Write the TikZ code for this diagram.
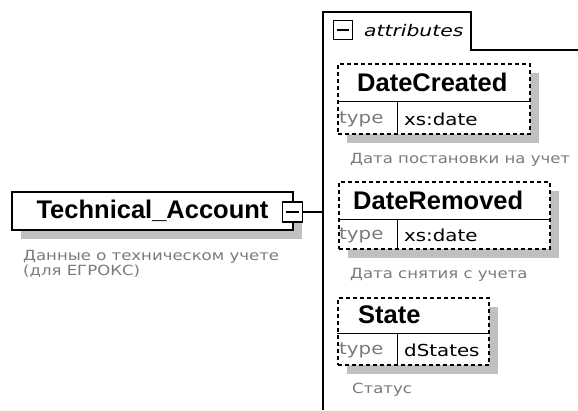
\documentclass[tikz,border=0pt]{standalone}
\usepackage{fontspec}
\setmainfont{DejaVu Sans}
\newfontfamily\descfont[FakeStretch=1.18]{DejaVu Sans}
\newfontfamily\typefont[FakeStretch=1.2]{DejaVu Sans}
\newfontfamily\tabfont[FakeStretch=1.27]{DejaVu Sans}
\newfontfamily\namefont{Liberation Sans}
\usetikzlibrary{positioning,shadows}

\definecolor{shadowgray}{RGB}{192,192,192}
\definecolor{descgray}{RGB}{122,122,122}

\tikzset{
  boxshadow/.style={drop shadow={shadow xshift=9pt, shadow yshift=-9pt, fill=shadowgray, opacity=1}},
  elembox/.style={draw, line width=1.5pt, fill=white, boxshadow, inner sep=0pt,
    font=\namefont\bfseries\fontsize{25.5}{28}\selectfont},
  attrbox/.style={draw, dash pattern=on 4pt off 3pt, line width=1.6pt, fill=white, boxshadow,
    anchor=north west, inner sep=0pt},
  namelabel/.style={font=\namefont\bfseries\fontsize{25.5}{28}\selectfont, anchor=west, inner sep=0pt},
  typelabel/.style={font=\typefont\fontsize{16.5}{18}\selectfont, text=descgray, anchor=west, inner sep=0pt},
  typevalue/.style={font=\typefont\fontsize{16.5}{18}\selectfont, anchor=west, inner sep=0pt},
  desclabel/.style={font=\descfont\fontsize{14}{15.5}\selectfont, text=descgray, anchor=west,
    inner sep=0pt, align=left},
  tablabel/.style={font=\tabfont\itshape\fontsize{16}{18}\selectfont, inner sep=0pt, anchor=west},
  minusbox/.style={draw, line width=1.1pt, fill=white, inner sep=0pt,
    path picture={\draw[line width=1.1pt] ([xshift=3.5pt]path picture bounding box.west)
      -- ([xshift=-3.5pt]path picture bounding box.east);}},
  divider/.style={line width=0.8pt},
  frameline/.style={line width=1.4pt}
}

\begin{document}
\begin{tikzpicture}[x=1pt,y=-1pt]
\useasboundingbox (0,0) rectangle (578,410);

% Element box and its description
\node[elembox, minimum width=281pt, minimum height=38pt] (acct) at (152.5,211) {Technical\_Account};
\node[minusbox, minimum size=20pt] (acctminus) at (292.5,212) {};
\node[desclabel] (acctdesc) at (23,264) {Данные о техническом учете\\(для ЕГРОКС)};

% Attributes frame with its tab
\coordinate (attrtl) at (323,12);
\coordinate (tabbr) at (471,50);
\coordinate (framebot) at (323,410);
\coordinate (frameright) at (578,50);
\draw[frameline] (framebot) -- (attrtl) -- (attrtl -| tabbr) -- (tabbr) -- (frameright);
\node[minusbox, minimum size=19pt] (attrminus) at (343,30) {};
\node[tablabel] (attrlabel) at (364,31) {attributes};

% Connector from element to attributes
\draw[frameline] (acctminus.east) -- (acctminus.east -| attrtl);

% Attribute DateCreated
\node[attrbox, minimum width=192pt, minimum height=70pt] (created) at (337,63) {};
\draw[divider] ([shift={(0,38)}]created.north west) -- ([shift={(0,38)}]created.north east);
\draw[divider] ([shift={(60,38)}]created.north west) -- ([shift={(60,0)}]created.south west);
\node[namelabel] (createdname) at ([shift={(20,19.5)}]created.north west) {DateCreated};
\node[typelabel] (createdtype) at ([shift={(2,-15)}]created.south west) {type};
\node[typevalue] (createdval) at ([shift={(67,-15)}]created.south west) {xs:date};
\node[desclabel] (createddesc) at ([shift={(13,25)}]created.south west) {Дата постановки на учет};

% Attribute DateRemoved
\node[attrbox, minimum width=211pt, minimum height=67pt] (removed) at (338,181) {};
\draw[divider] ([shift={(0,38)}]removed.north west) -- ([shift={(0,38)}]removed.north east);
\draw[divider] ([shift={(59,38)}]removed.north west) -- ([shift={(59,0)}]removed.south west);
\node[namelabel] (removedname) at ([shift={(15,19)}]removed.north west) {DateRemoved};
\node[typelabel] (removedtype) at ([shift={(1,-14)}]removed.south west) {type};
\node[typevalue] (removedval) at ([shift={(66,-14)}]removed.south west) {xs:date};
\node[desclabel] (removeddesc) at ([shift={(12,25)}]removed.south west) {Дата снятия с учета};

% Attribute State
\node[attrbox, minimum width=151pt, minimum height=67pt] (state) at (337,297) {};
\draw[divider] ([shift={(0,36)}]state.north west) -- ([shift={(0,36)}]state.north east);
\draw[divider] ([shift={(60,36)}]state.north west) -- ([shift={(60,0)}]state.south west);
\node[namelabel] (statename) at ([shift={(21,18)}]state.north west) {State};
\node[typelabel] (statetype) at ([shift={(2,-15)}]state.south west) {type};
\node[typevalue] (stateval) at ([shift={(67,-15)}]state.south west) {dStates};
\node[desclabel] (statedesc) at ([shift={(15,24)}]state.south west) {Статус};

\end{tikzpicture}
\end{document}
